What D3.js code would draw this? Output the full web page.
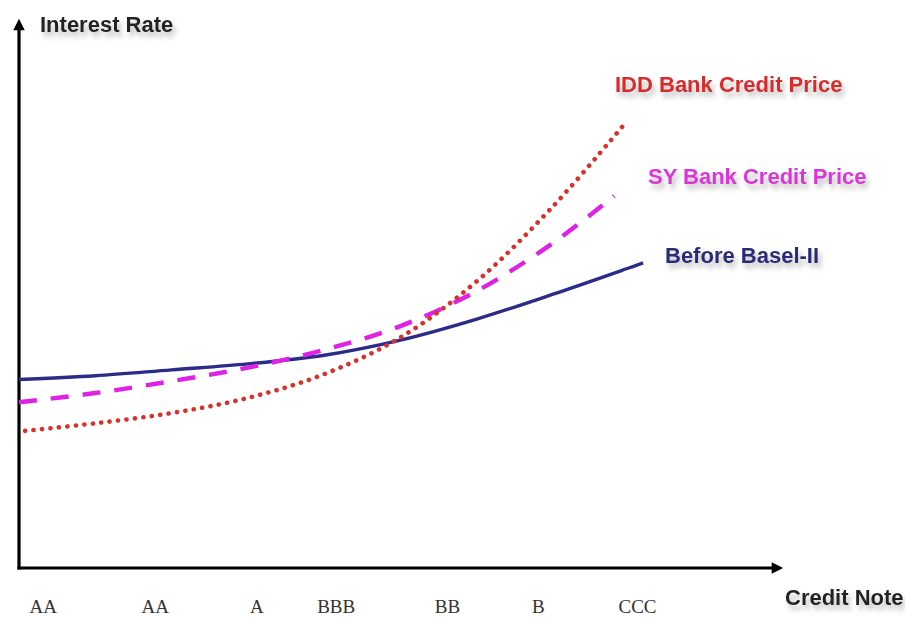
<!DOCTYPE html>
<html>
<head>
<meta charset="utf-8">
<script src="https://cdn.jsdelivr.net/npm/d3@7"></script>
<style>
  html, body { margin: 0; padding: 0; background: #fff; overflow: hidden; }
  svg { display: block; }
</style>
</head>
<body>
<svg id="chart" width="905" height="618"></svg>
<script>
// Credit rating positions along the x axis and their labels
const ratingPos = [3.1, 17.8, 31.1, 41.5, 56.1, 68.0, 81.0];
const ratingLabels = ["AA", "AA", "A", "BBB", "BB", "B", "CCC"];

// Interest-rate curves (x = position along rating axis, y = rate index)
const beforeX = [0, 10, 20, 30, 40, 50, 60, 70, 80, 81.8];
const beforeY = [34.9, 35.6, 36.7, 37.8, 39.4, 42.2, 46.1, 50.7, 55.6, 56.5];

const syX = [0, 10, 20, 30, 40, 50, 60, 70, 78];
const syY = [30.7, 32.4, 34.6, 37.1, 40.4, 44.8, 51.3, 60.2, 68.9];

const iddX = [0.8, 10, 20, 30, 40, 50, 60, 70, 79.7];
const iddY = [25.4, 26.8, 28.7, 31.5, 35.9, 42.7, 53.1, 67.0, 82.8];

const seriesNames = ["IDD Bank Credit Price", "SY Bank Credit Price", "Before Basel-II"];

const svg = d3.select("#chart");
const x0 = 19, y0 = 568;

const x = d3.scaleLinear().domain([0, 100]).range([x0, 782]);
const y = d3.scaleLinear().domain([0, 100]).range([y0, 28]);

const defs = svg.append("defs");
defs.append("marker")
  .attr("id", "arrow")
  .attr("viewBox", "0 0 10 10")
  .attr("refX", 2).attr("refY", 5)
  .attr("markerWidth", 4).attr("markerHeight", 3.6)
  .attr("markerUnits", "strokeWidth")
  .attr("orient", "auto")
  .append("path").attr("d", "M0,0 L10,5 L0,10 Z").attr("fill", "#000");

const shadow = defs.append("filter").attr("id", "shadow")
  .attr("x", "-10%").attr("y", "-30%").attr("width", "130%").attr("height", "190%");
shadow.append("feDropShadow")
  .attr("dx", 3).attr("dy", 5).attr("stdDeviation", 2.6)
  .attr("flood-color", "#808080").attr("flood-opacity", 0.5);

// Axes with arrowheads
svg.append("line")
  .attr("x1", x0).attr("y1", y0 + 1.5).attr("x2", x0).attr("y2", 28)
  .attr("stroke", "#000").attr("stroke-width", 3.2)
  .attr("marker-end", "url(#arrow)");
svg.append("line")
  .attr("x1", x0 - 1.6).attr("y1", y0).attr("x2", 774).attr("y2", y0)
  .attr("stroke", "#000").attr("stroke-width", 3.2)
  .attr("marker-end", "url(#arrow)");

// Rating tick labels
const xAxis = d3.axisBottom(x)
  .tickValues(ratingPos)
  .tickSize(0)
  .tickPadding(0)
  .tickFormat((d, i) => ratingLabels[i]);
const gx = svg.append("g").attr("transform", `translate(0, ${y0})`).call(xAxis);
gx.select(".domain").remove();
gx.selectAll("text")
  .attr("dy", null)
  .attr("y", 45)
  .attr("font-family", "'Liberation Serif', 'Times New Roman', serif")
  .attr("font-size", 19)
  .attr("fill", "#333");

// Curves
const line = d3.line().x(d => x(d[0])).y(d => y(d[1])).curve(d3.curveCatmullRom.alpha(0.5));
const zip = (a, b) => a.map((v, i) => [v, b[i]]);

svg.append("path")
  .datum(zip(beforeX, beforeY))
  .attr("d", line)
  .attr("fill", "none")
  .attr("stroke", "#2b2b88")
  .attr("stroke-width", 3.4);

svg.append("path")
  .datum(zip(syX, syY))
  .attr("d", line)
  .attr("fill", "none")
  .attr("stroke", "#e020e6")
  .attr("stroke-width", 4.4)
  .attr("stroke-dasharray", "18 14");

svg.append("path")
  .datum(zip(iddX, iddY))
  .attr("d", line)
  .attr("fill", "none")
  .attr("stroke", "#d9302a")
  .attr("stroke-width", 4.6)
  .attr("stroke-linecap", "round")
  .attr("stroke-dasharray", "0.1 8.4");

// Text labels
const sans = "'Liberation Sans', Arial, Helvetica, sans-serif";
const labels = [
  { t: "Interest Rate", x: 40, y: 32, c: "#222" },
  { t: seriesNames[0], x: 615, y: 92, c: "#d82a2a" },
  { t: seriesNames[1], x: 648, y: 184, c: "#d936d9" },
  { t: seriesNames[2], x: 665, y: 263, c: "#2a2a78" },
  { t: "Credit Note", x: 785, y: 605, c: "#222" }
];
svg.append("g").selectAll("text").data(labels).join("text")
  .attr("x", d => d.x).attr("y", d => d.y)
  .attr("font-family", sans)
  .attr("font-weight", "bold")
  .attr("font-size", 22)
  .attr("fill", d => d.c)
  .attr("filter", "url(#shadow)")
  .text(d => d.t);
</script>
</body>
</html>
